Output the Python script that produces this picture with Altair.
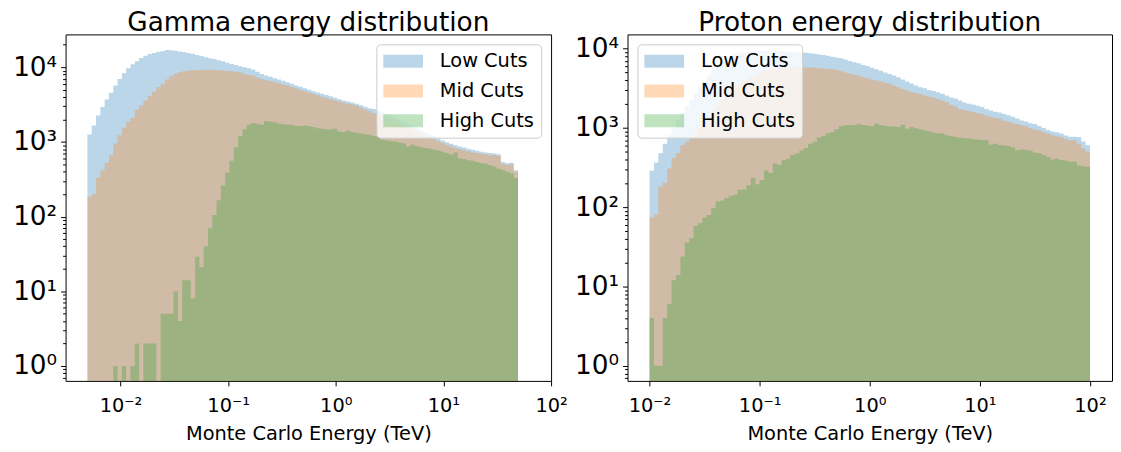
import altair as alt
import numpy as np
import pandas as pd

SERIES = ["Low Cuts", "Mid Cuts", "High Cuts"]
COLORS = ["#1f77b4", "#ff7f0e", "#2ca02c"]
N_BINS = 100

# energy range (TeV) covered by the log-spaced histogram bins
GAMMA_E_MIN, GAMMA_E_MAX = 0.00493, 49.3
PROTON_E_MIN, PROTON_E_MAX = 0.01, 100.0

X_TICKS = [0.01, 0.1, 1, 10, 100]
Y_TICKS = [1, 10, 100, 1000, 10000]

gamma_low = [1259, 1660, 2265, 2931, 3698, 4539, 5689, 6982, 8318, 9705,
             10965, 12023, 13305, 14289, 15031, 15488, 16144, 16331, 16982, 16900,
             16600, 16218, 15849, 15488, 15136, 14622, 14125, 13646, 13183, 12882,
             12445, 12023, 11482, 11092, 10715, 10351, 10000, 9661, 9300, 8700,
             8128, 7762, 7447, 7129, 6855, 6577, 6310, 6026, 5715, 5470,
             5224, 5012, 4786, 4592, 4416, 4236, 4074, 3890, 3733, 3589,
             3467, 3365, 3236, 3090, 2951, 2831, 2754, 2630, 2512, 2371,
             2239, 2113, 1995, 1884, 1758, 1660, 1549, 1445, 1349, 1259,
             1189, 1122, 1047, 989, 944, 902, 871, 841, 813, 785,
             759, 741, 724, 708, 700, 684, 537, 519, 525, 417]

gamma_mid = [185, 200, 331, 417, 525, 661, 955, 1230, 1549, 1862,
             2089, 2692, 3090, 3589, 4169, 4732, 5408, 5984, 6839, 7586,
             8128, 8570, 8831, 9016, 9120, 9204, 9247, 9290, 9290, 9226,
             9120, 9016, 8913, 8810, 8710, 8511, 8128, 7852, 7674, 7244,
             6918, 6761, 6531, 6310, 6095, 5888, 5689, 5433, 5224, 5012,
             4786, 4592, 4406, 4217, 4036, 3864, 3715, 3589, 3467, 3350,
             3251, 3162, 3055, 2884, 2723, 2570, 2427, 2344, 2213, 2089,
             1995, 1862, 1758, 1660, 1549, 1462, 1380, 1288, 1216, 1148,
             1084, 1023, 966, 912, 871, 832, 804, 776, 750, 724,
             708, 692, 676, 661, 661, 646, 501, 490, 501, 398]

gamma_high = [0, 0, 0, 0, 0, 0, 1, 0, 1, 0,
              1, 2, 0, 2, 2, 2, 0, 5, 5, 5,
              10, 4, 14, 14, 8, 29, 21, 40, 70, 105,
              165, 260, 390, 560, 850, 1200, 1480, 1700, 1790, 1750,
              1700, 1900, 1880, 1840, 1750, 1720, 1700, 1680, 1640, 1630,
              1660, 1640, 1580, 1530, 1500, 1480, 1470, 1500, 1380, 1350,
              1410, 1360, 1320, 1300, 1270, 1250, 1200, 1180, 1070, 1050,
              1020, 1010, 980, 950, 870, 920, 880, 850, 830, 810,
              790, 770, 740, 710, 680, 720, 600, 590, 570, 560,
              540, 520, 510, 490, 470, 440, 420, 400, 380, 330]

proton_low = [288, 368, 479, 631, 807, 1000, 1259, 1549, 1862, 2239,
              2692, 3236, 3802, 4571, 5370, 6166, 6918, 7586, 8128, 8511,
              8810, 9016, 9162, 9268, 9333, 9376, 9397, 9376, 9333, 9290,
              9226, 9162, 9078, 8995, 8913, 8872, 8750, 8610, 8472, 8318,
              8128, 7889, 7727, 7551, 7278, 6998, 6761, 6546, 6237, 6026,
              5754, 5495, 5248, 5012, 4786, 4571, 4365, 4074, 3846, 3631,
              3428, 3273, 3162, 3020, 2917, 2818, 2692, 2570, 2427, 2344,
              2213, 2089, 2018, 1972, 1905, 1841, 1738, 1660, 1603, 1567,
              1496, 1445, 1380, 1318, 1245, 1202, 1148, 1122, 1059, 1000,
              944, 902, 881, 851, 804, 776, 773, 771, 676, 603]

proton_mid = [74, 81, 182, 204, 309, 417, 479, 603, 676, 741,
              832, 1000, 1202, 1413, 1660, 1950, 2239, 2570, 2884, 3236,
              3548, 3890, 4266, 4571, 4898, 5129, 5370, 5559, 5689, 5754,
              5821, 5861, 5888, 5861, 5821, 5781, 5781, 5728, 5675, 5623,
              5559, 5495, 5370, 5248, 5012, 4864, 4699, 4550, 4365, 4246,
              4074, 3954, 3846, 3715, 3631, 3428, 3251, 3090, 2965, 2851,
              2754, 2661, 2570, 2483, 2399, 2323, 2213, 2113, 1950, 1862,
              1738, 1679, 1622, 1585, 1531, 1510, 1429, 1371, 1334, 1306,
              1245, 1202, 1148, 1122, 1084, 1047, 989, 955, 933, 881,
              849, 809, 785, 771, 724, 700, 700, 631, 550, 501]

proton_high = [4, 1, 1, 4, 6, 12, 14, 24, 36, 41,
               58, 63, 74, 80, 97, 118, 122, 131, 140, 145,
               166, 168, 190, 234, 195, 220, 290, 270, 355, 340,
               393, 410, 460, 480, 520, 560, 630, 670, 760, 800,
               860, 890, 960, 1050, 1080, 1090, 1080, 1120, 1090, 1070,
               1050, 1140, 1080, 1060, 1050, 1040, 1030, 1100, 980, 1030,
               990, 960, 935, 910, 870, 860, 850, 810, 790, 770,
               750, 740, 735, 720, 715, 705, 700, 620, 630, 610,
               600, 590, 570, 525, 535, 530, 515, 490, 480, 455,
               430, 400, 410, 395, 390, 375, 375, 335, 330, 325]

FLOOR = 0.1  # histogram bars start below the visible range, as on a log axis


def hist_frame(emin, emax, all_counts):
    edges = np.logspace(np.log10(emin), np.log10(emax), N_BINS + 1)
    rows = []
    for name, counts in zip(SERIES, all_counts):
        for i, c in enumerate(counts):
            rows.append({"series": name, "e": edges[i], "count": c})
        rows.append({"series": name, "e": edges[-1], "count": counts[-1]})
    df = pd.DataFrame(rows)
    df["count"] = df["count"].where(df["count"] > 0, FLOOR).astype(float)
    df["floor"] = FLOOR
    return df


SUP = {"-2": "10⁻²", "-1": "10⁻¹", "0": "10⁰", "1": "10¹", "2": "10²", "3": "10³", "4": "10⁴"}


def pow_label_expr():
    expr = "''"
    for p in sorted(SUP, key=int):
        expr = f"abs(log(datum.value)/log(10) - ({p})) < 0.01 ? '{SUP[p]}' : " + expr
    return expr


FONT = "DejaVu Sans"


def panel(df, title, xdom, ydom, orient, width):
    legend = alt.Legend(
        title=None, orient=orient, offset=10, padding=7,
        fillColor="rgba(255,255,255,0.8)", strokeColor="#cccccc", cornerRadius=4,
        labelFont=FONT, labelFontSize=19.5, labelColor="black", labelOffset=27,
        symbolType="M-2,-0.65L2,-0.65L2,0.65L-2,0.65Z", symbolSize=400,
        symbolOffset=10, symbolStrokeWidth=0, symbolOpacity=0.3, rowPadding=10,
    )
    color = alt.Color("series:N", scale=alt.Scale(domain=SERIES, range=COLORS), legend=legend)
    xaxis = alt.Axis(
        values=X_TICKS, labelExpr=pow_label_expr(), title="Monte Carlo Energy (TeV)",
        titleFont=FONT, titleFontSize=19.5, titleFontWeight="normal", titleColor="black",
        titlePadding=10, labelFont=FONT, labelFontSize=19.5, labelColor="black",
        labelPadding=11, tickSize=5, tickColor="black", domain=False, grid=False,
        labelFlush=False, labelOverlap=False, labelBound=False,
    )
    x = alt.X("e:Q", scale=alt.Scale(type="log", domain=xdom, nice=False), axis=xaxis)
    major = alt.Axis(
        values=Y_TICKS, labelExpr=pow_label_expr(), title=None, orient="left",
        labelFont=FONT, labelFontSize=26.5, labelColor="black", labelPadding=4,
        tickSize=5, tickColor="black", domain=False, grid=False,
        labelFlush=False, labelOverlap=False, labelBound=False,
    )
    minor_vals = [m * 10 ** d for d in range(-1, 5) for m in range(2, 10)
                  if ydom[0] <= m * 10 ** d <= ydom[1]]
    minor = alt.Axis(
        values=minor_vals, labels=False, title=None, orient="left",
        tickSize=3, tickColor="black", domain=False, grid=False,
    )
    yscale = alt.Scale(type="log", domain=ydom, nice=False)
    layers = []
    for i, s in enumerate(SERIES):
        yaxis = major if i == 0 else (minor if i == 1 else None)
        layers.append(
            alt.Chart(df)
            .transform_filter(alt.datum.series == s)
            .mark_area(interpolate="step-after", opacity=0.3, clip=True)
            .encode(
                x=x,
                y=alt.Y("count:Q", scale=yscale, axis=yaxis, stack=None),
                y2="floor:Q",
                color=color,
            )
        )
    return (
        alt.layer(*layers)
        .resolve_axis(y="independent")
        .properties(
            width=width, height=349,
            title=alt.TitleParams(title, font=FONT, fontSize=26.5, fontWeight="normal",
                                  color="black", anchor="middle", frame="group", offset=-2),
        )
    )


gamma_df = hist_frame(GAMMA_E_MIN, GAMMA_E_MAX, [gamma_low, gamma_mid, gamma_high])
proton_df = hist_frame(PROTON_E_MIN, PROTON_E_MAX, [proton_low, proton_mid, proton_high])

left = panel(gamma_df, "Gamma energy distribution", [10 ** -2.51, 100.0],
             [10 ** -0.2, 10 ** 4.44], "top-right", 489)
right = panel(proton_df, "Proton energy distribution", [10 ** -2.2, 10 ** 2.2],
              [10 ** -0.19, 10 ** 4.18], "top-left", 488)

chart = (
    alt.hconcat(left, right, spacing=77, bounds="flush")
    .resolve_scale(x="independent", y="independent", color="independent")
    .resolve_legend(color="independent")
    .properties(padding={"left": 4, "top": 0, "right": 0, "bottom": 0})
    .configure(font=FONT)
    .configure_view(stroke="black", strokeWidth=1)
)

chart.save("out.html", embed_options={"renderer": "svg", "actions": False})
